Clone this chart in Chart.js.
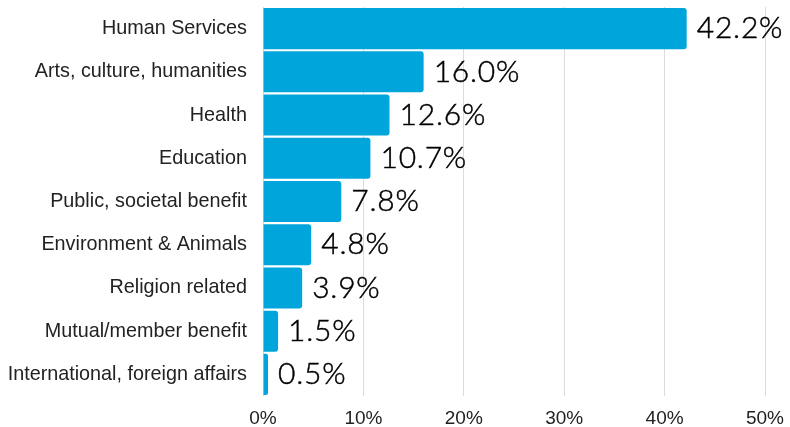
<!DOCTYPE html>
<html>
<head>
<meta charset="utf-8">
<script src="https://cdn.jsdelivr.net/npm/chart.js@4"></script>
<style>
html,body{margin:0;padding:0;background:#fff;}
#wrap{position:relative;width:790px;height:427px;}
</style>
</head>
<body>
<div id="wrap"><canvas id="c" width="790" height="427"></canvas></div>
<script>
const categories = [
  "Human Services",
  "Arts, culture, humanities",
  "Health",
  "Education",
  "Public, societal benefit",
  "Environment & Animals",
  "Religion related",
  "Mutual/member benefit",
  "International, foreign affairs"
];
const shares = [42.2, 16.0, 12.6, 10.7, 7.8, 4.8, 3.9, 1.5, 0.5];
const tickValues = [0, 10, 20, 30, 40, 50];

const valueLabels = {
  id: 'valueLabels',
  afterDatasetsDraw(chart) {
    const ctx = chart.ctx;
    const meta = chart.getDatasetMeta(0);
    ctx.save();
    ctx.font = '300 30px Lato';
    if ('letterSpacing' in ctx) ctx.letterSpacing = '0.8px';
    ctx.fillStyle = '#000';
    ctx.strokeStyle = '#000';
    ctx.lineWidth = 0.45;
    ctx.textAlign = 'left';
    ctx.textBaseline = 'middle';
    meta.data.forEach((el, i) => {
      const t = shares[i].toFixed(1) + '%';
      ctx.fillText(t, el.x + 10, el.y);
      ctx.strokeText(t, el.x + 10, el.y);
    });
    ctx.restore();
  }
};

new Chart(document.getElementById('c'), {
  type: 'bar',
  data: {
    labels: categories,
    datasets: [{
      data: shares,
      backgroundColor: '#00A5DC',
      borderWidth: 0,
      borderRadius: {topLeft: 0, bottomLeft: 0, topRight: 3, bottomRight: 3},
      borderSkipped: false,
      barPercentage: 0.95,
      categoryPercentage: 1.0
    }]
  },
  options: {
    indexAxis: 'y',
    responsive: false,
    animation: false,
    layout: {padding: {left: 0, right: 25, top: 7, bottom: 0}},
    plugins: {legend: {display: false}, tooltip: {enabled: false}},
    scales: {
      x: {
        min: 0, max: 50,
        afterBuildTicks(axis) { axis.ticks = tickValues.map(v => ({value: v})); },
        afterFit(scale) { scale.height = 31; scale.paddingLeft = 0; scale.paddingRight = 0; },
        grid: {color: '#dcdcdc', lineWidth: 1, drawTicks: false},
        border: {display: false},
        ticks: {
          color: '#222',
          padding: 11,
          font: {family: 'Liberation Sans', size: 19},
          callback: v => v + '%'
        }
      },
      y: {
        afterFit(scale) { scale.width = 263; scale.paddingTop = 0; scale.paddingBottom = 0; },
        grid: {display: false, drawTicks: false},
        border: {display: false},
        ticks: {
          color: '#222',
          padding: 16,
          font: {family: 'Liberation Sans', size: 19.8}
        }
      }
    }
  },
  plugins: [valueLabels]
});
</script>
</body>
</html>
